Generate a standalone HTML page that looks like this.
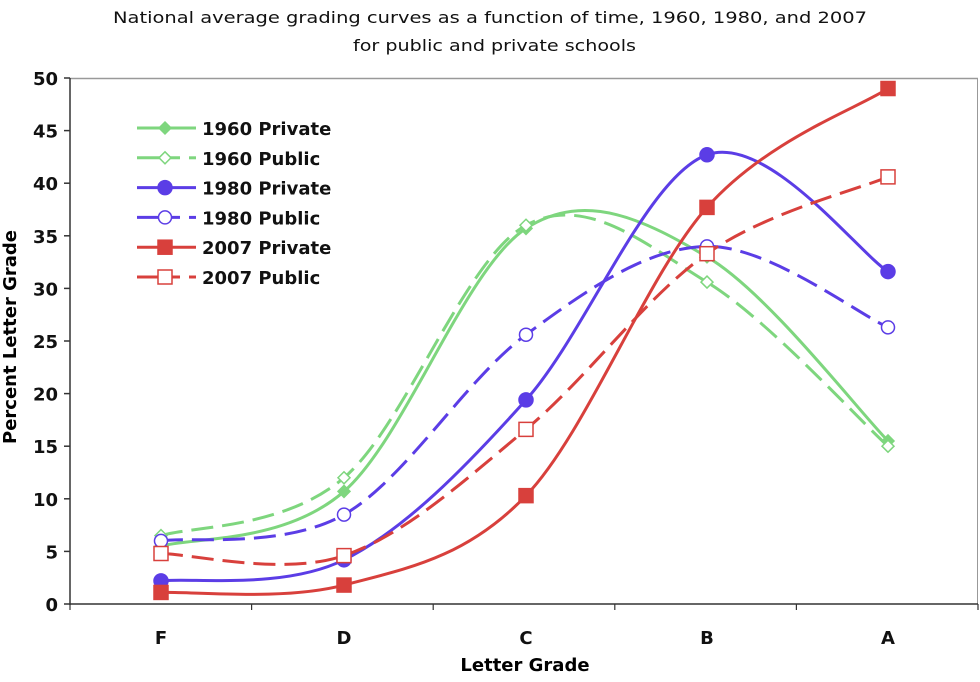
<!DOCTYPE html>
<html><head><meta charset="utf-8"><style>
body{margin:0;background:#fff;width:980px;height:677px;overflow:hidden}
text{font-family:"DejaVu Sans","Liberation Sans",sans-serif}
</style></head><body>
<svg id="s" width="980" height="677" xmlns="http://www.w3.org/2000/svg">
<text x="113" y="23" font-size="16" fill="#111" textLength="754" lengthAdjust="spacingAndGlyphs">National average grading curves as a function of time, 1960, 1980, and 2007</text>
<text x="353" y="51" font-size="16" fill="#111" textLength="283" lengthAdjust="spacingAndGlyphs">for public and private schools</text>
<line x1="70" y1="78.5" x2="978" y2="78.5" stroke="#999" stroke-width="1.5"/>
<line x1="977.5" y1="78" x2="977.5" y2="604" stroke="#999" stroke-width="1"/>
<line x1="70" y1="78" x2="70" y2="605" stroke="#333" stroke-width="1.5"/>
<line x1="70" y1="604" x2="978" y2="604" stroke="#333" stroke-width="1.5"/>
<g id="ax" font-size="18" font-weight="bold" fill="#111"></g>
<text x="525" y="671" text-anchor="middle" font-size="18" font-weight="bold">Letter Grade</text>
<text transform="translate(16,337) rotate(-90)" text-anchor="middle" font-size="18" font-weight="bold">Percent Letter Grade</text>
<g id="series"></g>
<g id="leg" font-size="18" font-weight="bold" fill="#111"></g>
</svg>
<script>
var NS="http://www.w3.org/2000/svg";
function el(p,t,a,txt){var e=document.createElementNS(NS,t);for(var k in a)e.setAttribute(k,a[k]);if(txt)e.textContent=txt;p.appendChild(e);return e;}
var ax=document.getElementById('ax');
function Y(v){return 604-v*10.52;}
var X=[161,344,526,707,888];
for(var v=0;v<=50;v+=5){el(ax,'line',{x1:64,x2:70,y1:Y(v),y2:Y(v),stroke:'#333','stroke-width':1.5});el(ax,'text',{x:58,y:Y(v)+7,'text-anchor':'end'},String(v));}
for(var i=0;i<=5;i++){var x=70+i*181.6;el(ax,'line',{x1:x,x2:x,y1:604,y2:610,stroke:'#333','stroke-width':1.2});}
['F','D','C','B','A'].forEach(function(l,i){el(ax,'text',{x:X[i],y:644,'text-anchor':'middle'},l);});
var G='#7ed67e',B='#5b3de6',R='#d8403c';
var S=[
{n:'1960 Private',c:G,d:[5.5,10.7,35.7,33,15.5],dash:0,m:'dia',f:1},
{n:'1960 Public',c:G,d:[6.5,12,36,30.6,15],dash:1,m:'dia',f:0},
{n:'1980 Private',c:B,d:[2.2,4.2,19.4,42.7,31.6],dash:0,m:'circ',f:1},
{n:'1980 Public',c:B,d:[6,8.5,25.6,34,26.3],dash:1,m:'circ',f:0},
{n:'2007 Private',c:R,d:[1.1,1.8,10.3,37.7,49],dash:0,m:'sq',f:1},
{n:'2007 Public',c:R,d:[4.8,4.6,16.6,33.3,40.6],dash:1,m:'sq',f:0}];
function path(pts){var d='M'+pts[0][0]+','+pts[0][1];
for(var i=0;i<pts.length-1;i++){var p0=pts[i-1]||pts[i],p1=pts[i],p2=pts[i+1],p3=pts[i+2]||p2;
var k=1/6;d+=' C'+(p1[0]+(p2[0]-p0[0])*k)+','+(p1[1]+(p2[1]-p0[1])*k)+' '+(p2[0]-(p3[0]-p1[0])*k)+','+(p2[1]-(p3[1]-p1[1])*k)+' '+p2[0]+','+p2[1];}return d;}
function marker(g,s,x,y){var a={fill:s.f?s.c:'#fff',stroke:s.c,'stroke-width':1.5};
if(s.m=='dia'){a.points=[x,y-6,x+6,y,x,y+6,x-6,y].join(' ');el(g,'polygon',a);}
else if(s.m=='circ'){a.cx=x;a.cy=y;a.r=s.f?7:6.5;el(g,'circle',a);}
else{var h=7;a.x=x-h;a.y=y-h;a.width=2*h;a.height=2*h;el(g,'rect',a);}}
var sg=document.getElementById('series'),lg=document.getElementById('leg');
S.forEach(function(s,j){var pts=s.d.map(function(v,i){return[X[i],Y(v)];});
el(sg,'path',{d:path(pts),fill:'none',stroke:s.c,'stroke-width':3,'stroke-dasharray':s.dash?'22 9':'none'});
pts.forEach(function(p){marker(sg,s,p[0],p[1]);});
var ly=128+j*29.8;
if(s.dash){el(lg,'line',{x1:137,x2:180,y1:ly,y2:ly,stroke:s.c,'stroke-width':3});el(lg,'line',{x1:189,x2:196,y1:ly,y2:ly,stroke:s.c,'stroke-width':3});}
else el(lg,'line',{x1:137,x2:196,y1:ly,y2:ly,stroke:s.c,'stroke-width':3});
marker(lg,s,165,ly);
el(lg,'text',{x:202,y:ly+7},s.n);});
</script>
</body></html>
